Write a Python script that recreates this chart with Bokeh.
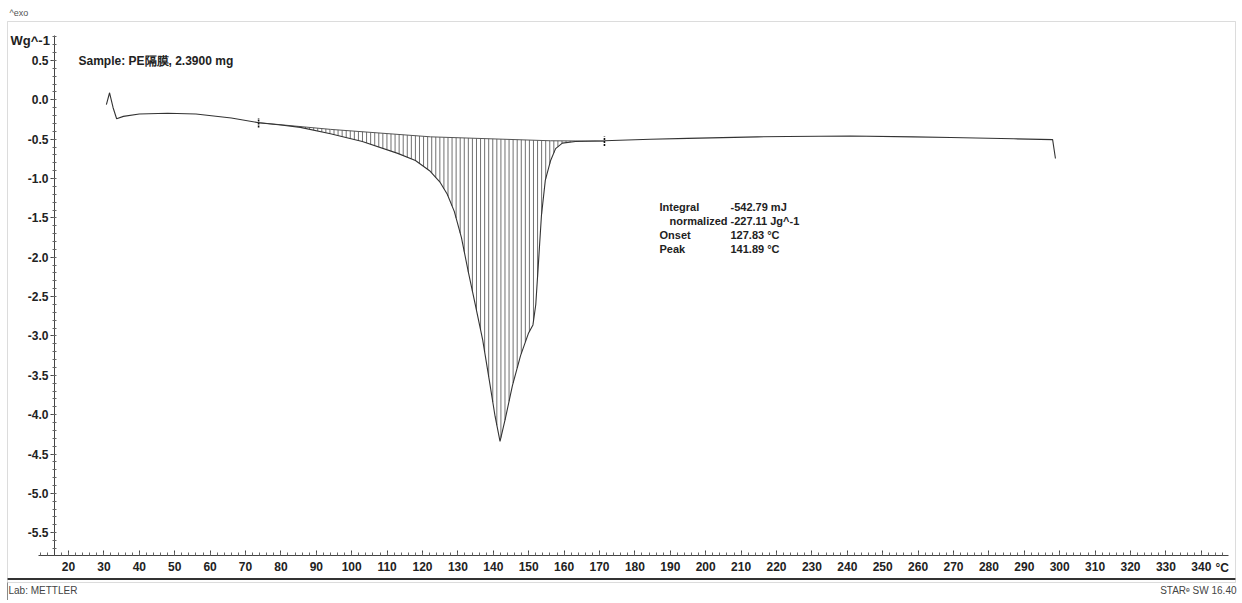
import numpy as np
from bokeh.plotting import figure
from bokeh.models import Range1d, FixedTicker, PrintfTickFormatter, Label, BoxAnnotation
from bokeh.embed import file_html
from bokeh.resources import INLINE

# ---------------- data ----------------
temperature_c = [30.7, 31.6, 32.6, 33.6, 35.5, 40.0, 48.0, 56.0, 66.0, 73.7,
                 80.0, 85.5, 94.0, 103.0, 113.0, 118.0, 122.0, 125.0, 127.0, 129.0,
                 131.0, 133.0, 135.0, 137.0, 139.0, 140.5, 141.9, 143.4, 145.4, 147.7,
                 149.9, 151.2, 152.0, 152.8, 153.6, 154.7, 156.2, 157.6, 159.5, 163.2,
                 171.4, 184.4, 194.9, 214.6, 223.1, 240.9, 258.7, 269.2, 287.0, 298.0,
                 298.8]
heat_flow_wg = [-0.06, 0.09, -0.10, -0.24, -0.21, -0.18, -0.17, -0.18, -0.23, -0.29,
                -0.32, -0.35, -0.43, -0.53, -0.68, -0.77, -0.90, -1.05, -1.20, -1.42,
                -1.75, -2.20, -2.62, -3.05, -3.60, -4.02, -4.34, -4.05, -3.63, -3.25,
                -2.97, -2.86, -2.60, -2.04, -1.47, -1.02, -0.77, -0.62, -0.55, -0.53,
                -0.52, -0.50, -0.49, -0.47, -0.465, -0.46, -0.47, -0.478, -0.495, -0.505,
                -0.745]

# integration baseline (limits at 73.7 and 171.4 degC)
baseline_t = [73.7, 94.0, 122.3, 156.2, 171.4]
baseline_v = [-0.29, -0.375, -0.47, -0.52, -0.525]
limit_t = [73.7, 171.4]
limit_v = [-0.29, -0.525]

x_ticks = list(range(20, 341, 10))
x_minor_ticks = list(range(12, 347, 2))
y_ticks = [0.5, 0.0, -0.5, -1.0, -1.5, -2.0, -2.5, -3.0, -3.5, -4.0, -4.5, -5.0, -5.5]
y_minor_ticks = [round(-5.7 + 0.1 * i, 1) for i in range(0, 66)]

sample_text = "Sample: PE隔膜, 2.3900 mg"
result_names = ["Integral", "normalized", "Onset", "Peak"]
result_values = ["-542.79 mJ", "-227.11 Jg^-1", "127.83 °C", "141.89 °C"]

FONT = "Liberation Sans"
INK = "#222222"

# ---------------- layout helpers (page pixels -> data units) ----------------
W, H = 1240, 600
def tx(px):
    return 20 + (px - 68) / 3.54
def vy(py):
    return 0.5 - (py - 60) / 78.7

p = figure(width=W, height=H,
           x_range=Range1d(tx(0), tx(W)), y_range=Range1d(vy(H), vy(0)),
           output_backend="svg", toolbar_location=None,
           min_border_left=0, min_border_right=0, min_border_top=0, min_border_bottom=0)
p.grid.visible = False
p.outline_line_color = None
p.background_fill_color = "white"
p.border_fill_color = "white"

# outer instrument frame
p.add_layout(BoxAnnotation(left=tx(7), right=tx(1235), top=vy(21), bottom=vy(582),
                           fill_alpha=0, line_color="#8a8a8a", line_width=1))
p.segment(x0=[tx(7)], y0=[vy(578.5)], x1=[tx(1235)], y1=[vy(578.5)],
          line_color="#333333", line_width=2)
p.segment(x0=[tx(7)], y0=[vy(582)], x1=[tx(7)], y1=[vy(H)],
          line_color="#8a8a8a", line_width=1)

# axes placed inside the frame, Mettler style
xa = p.xaxis[0]
ya = p.yaxis[0]
xa.fixed_location = vy(555)
ya.fixed_location = tx(54)
xa.bounds = (tx(38), tx(1228))
ya.bounds = (vy(555), vy(35))

xa.ticker = FixedTicker(ticks=x_ticks, minor_ticks=x_minor_ticks)
ya.ticker = FixedTicker(ticks=y_ticks, minor_ticks=y_minor_ticks)
ya.formatter = PrintfTickFormatter(format="%.1f")

for ax in (xa, ya):
    ax.axis_line_color = "#444444"
    ax.major_tick_line_color = "#444444"
    ax.minor_tick_line_color = "#666666"
    ax.major_label_text_font = FONT
    ax.major_label_text_font_style = "bold"
    ax.major_label_text_font_size = "12px"
    ax.major_label_text_color = INK

xa.major_tick_in = 5
xa.major_tick_out = 0
xa.minor_tick_in = 3
xa.minor_tick_out = 0
xa.major_label_standoff = 6

ya.major_tick_in = 0
ya.major_tick_out = 4
ya.minor_tick_in = 2
ya.minor_tick_out = 2
ya.major_label_standoff = 2

# ---------------- hatched integration area ----------------
t_arr = np.array(temperature_c)
v_arr = np.array(heat_flow_wg)
hatch_t = np.arange(limit_t[0] + 0.6, limit_t[1], 1.15)
hatch_base = np.interp(hatch_t, baseline_t, baseline_v)
hatch_curve = np.interp(hatch_t, t_arr, v_arr)
mask = hatch_curve < hatch_base
p.segment(x0=hatch_t[mask], y0=hatch_base[mask], x1=hatch_t[mask], y1=hatch_curve[mask],
          line_color="#4d4d4d", line_width=0.8)

# baseline
p.line(baseline_t, baseline_v, line_color="#555555", line_width=1)

# DSC curve
p.line(temperature_c, heat_flow_wg, line_color="#333333", line_width=1.1)

# integration limit markers
p.segment(x0=limit_t, y0=[v - 0.06 for v in limit_v],
          x1=limit_t, y1=[v + 0.06 for v in limit_v],
          line_color="#111111", line_width=1.6, line_dash="2 1")

# ---------------- texts ----------------
def lab(px, py, text, size="12px", bold=True, align="left", color=INK):
    p.add_layout(Label(x=tx(px), y=vy(py), text=text, text_font=FONT, text_font_size=size,
                       text_font_style="bold" if bold else "normal",
                       text_align=align, text_baseline="middle", text_color=color))

lab(10, 40, "Wg^-1", size="13px")
lab(78, 60, sample_text, size="12px")
lab(1215, 567, "°C", size="12px")

name_px = [659, 669, 659, 659]
row_py = [206, 220, 234, 248]
for nm, val, nx, ry in zip(result_names, result_values, name_px, row_py):
    lab(nx, ry, nm, size="11px")
    lab(730, ry, val, size="11px")

lab(9, 12, "^exo", size="9px", bold=False, color="#555555")
lab(8, 590, "Lab: METTLER", size="10px", bold=False, color="#444444")
lab(1236, 590, "STARᵉ SW 16.40", size="10px", bold=False, align="right", color="#444444")

open("out.html", "w").write(file_html(p, INLINE))
